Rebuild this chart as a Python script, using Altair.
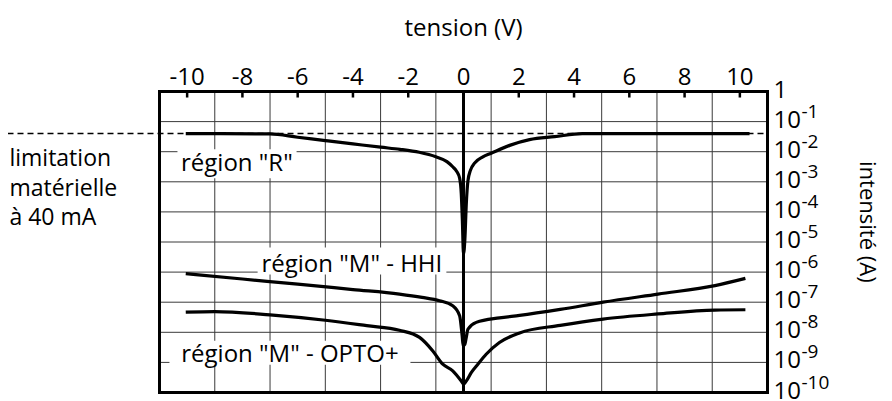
import altair as alt
import pandas as pd

FONT = "Open Sans"

# ---- axes ----
x_tick_values = [-10, -8, -6, -4, -2, 0, 2, 4, 6, 8, 10]
x_grid_values = [-9, -7, -5, -3, -1, 1, 3, 5, 7, 9]
y_label_exponents = [0, -1, -2, -3, -4, -5, -6, -7, -8, -9, -10]
y_grid_exponents = [-1, -2, -3, -4, -5, -6, -7, -8, -9]
x_title = "tension (V)"

# ---- curves: voltage (V) and log10 of current (A) ----
r_v = [-10.05, -7.0, -6.0, -5.0, -4.0, -3.0, -2.3, -1.6, -1.0, -0.6, -0.39, -0.25,
       -0.14, -0.08, -0.04, 0.0, 0.05, 0.1, 0.16, 0.25, 0.4, 0.7, 1.0, 1.67, 2.39,
       3.3, 4.3, 10.35]
r_exp = [-1.40, -1.41, -1.52, -1.63, -1.74, -1.85, -1.92, -2.02, -2.17, -2.33, -2.50,
         -2.65, -2.88, -3.40, -4.30, -5.40, -4.90, -3.75, -2.97, -2.62, -2.38, -2.17,
         -2.05, -1.79, -1.60, -1.50, -1.40, -1.40]

hhi_v = [-10.05, -8.0, -6.0, -4.0, -2.32, -1.5, -0.87, -0.39, -0.14, -0.05, -0.01,
         0.05, 0.1, 0.16, 0.46, 1.3, 2.03, 3.5, 5.05, 7.04, 9.1, 10.2]
hhi_exp = [-6.05, -6.23, -6.40, -6.58, -6.73, -6.84, -6.95, -7.12, -7.45, -8.10, -8.45,
           -8.40, -8.17, -7.90, -7.67, -7.52, -7.44, -7.24, -7.00, -6.73, -6.45, -6.21]

opto_v = [-10.05, -9.0, -7.0, -5.0, -3.5, -2.32, -1.59, -1.11, -0.75, -0.39, -0.08,
          0.0, 0.1, 0.28, 0.52, 0.82, 1.3, 2.03, 3.5, 5.05, 7.04, 9.1, 10.2]
opto_exp = [-7.33, -7.31, -7.42, -7.60, -7.78, -7.93, -8.17, -8.62, -9.06, -9.28, -9.62,
            -9.72, -9.62, -9.34, -9.06, -8.73, -8.34, -8.02, -7.77, -7.56, -7.39, -7.26,
            -7.25]

limit_current = 0.04  # 40 mA
limit_v_start = -16.5

# ---- annotations ----
box_v1 = [-10.35, -7.45, -10.64]
box_v2 = [-6.04, -0.62, -1.92]
box_exp_top = [-1.92, -5.18, -8.28]
box_exp_bottom = [-2.88, -6.08, -9.08]
label_texts = ['région "R"', 'région "M" - HHI', 'région "M" - OPTO+']
label_v = [-8.2, -4.04, -6.28]
label_exp = [-2.64, -5.99, -9.0]

note_lines = ["limitation", "matérielle", "à 40 mA"]
note_v = -16.43
note_exp = [-2.48, -3.48, -4.44]

y_title = "intensité (A)"
y_title_v = 14.6
y_title_exp = -4.33

# ---- data frames ----
rows = []
for name, vs, es in [("R", r_v, r_exp), ("HHI", hhi_v, hhi_exp), ("OPTO", opto_v, opto_exp)]:
    for k, (v, e) in enumerate(zip(vs, es)):
        rows.append({"series": name, "k": k, "v": v, "i": 10 ** e})
curves = pd.DataFrame(rows)

xscale = alt.Scale(domain=[-11, 11], nice=False, zero=False)
yscale = alt.Scale(type="log", domain=[1e-10, 1], nice=False)

xgrid_df = pd.DataFrame({"v": x_grid_values})
ygrid_df = pd.DataFrame({"i": [10.0 ** e for e in y_grid_exponents]})
ticks_df = pd.DataFrame({"v": x_tick_values, "t": [str(v) for v in x_tick_values]})
boxes_df = pd.DataFrame({
    "v1": box_v1, "v2": box_v2,
    "i1": [10 ** e for e in box_exp_top], "i2": [10 ** e for e in box_exp_bottom],
})
labels_df = pd.DataFrame({"v": label_v, "i": [10 ** e for e in label_exp], "t": label_texts})
note_df = pd.DataFrame({"v": [note_v] * 3, "i": [10 ** e for e in note_exp], "t": note_lines})
ylab_df = pd.DataFrame({
    "i": [10.0 ** e for e in y_label_exponents],
    "base": ["1" if e == 0 else "10" for e in y_label_exponents],
    "sup": ["" if e == 0 else str(e) for e in y_label_exponents],
})
ytitle_df = pd.DataFrame({"v": [y_title_v], "i": [10 ** y_title_exp], "t": [y_title]})
xtitle_df = pd.DataFrame({"v": [0], "t": [x_title]})
frame_df = pd.DataFrame({"v1": [-11], "v2": [11], "i1": [1.0], "i2": [1e-10]})

GRID = "#3a3a3a"
X = lambda f: alt.X(f, scale=xscale, axis=None)
Y = lambda f: alt.Y(f, scale=yscale, axis=None)

xgrid = alt.Chart(xgrid_df).mark_rule(color=GRID, strokeWidth=1).encode(x=X("v:Q"))
ygrid = alt.Chart(ygrid_df).mark_rule(color=GRID, strokeWidth=1).encode(y=Y("i:Q"))
boxes = alt.Chart(boxes_df).mark_rect(color="white").encode(
    x=X("v1:Q"), x2="v2:Q", y=Y("i1:Q"), y2="i2:Q",
)
lines = alt.Chart(curves).mark_line(color="black", interpolate="monotone").encode(
    x=X("v:Q"), y=Y("i:Q"),
    detail="series:N",
    order="k:Q",
    strokeWidth=alt.StrokeWidth("series:N", legend=None,
                                scale=alt.Scale(domain=["R", "HHI", "OPTO"], range=[3.2, 3.2, 2])),
)
zero_line = alt.Chart(pd.DataFrame({"v": [0]})).mark_rule(color="black", strokeWidth=3).encode(
    x=X("v:Q")
)
frame = alt.Chart(frame_df).mark_rect(fill=None, stroke="black", strokeWidth=3).encode(
    x=X("v1:Q"), x2="v2:Q", y=Y("i1:Q"), y2="i2:Q",
)
ticks = alt.Chart(ticks_df).mark_rule(color="black", strokeWidth=2.5).encode(
    x=X("v:Q"),
    y=alt.YDatum(1, scale=yscale, axis=None),
    y2=alt.Y2Datum(10 ** -0.2),
)
tick_labels = alt.Chart(ticks_df).mark_text(font=FONT, fontSize=24, color="black",
                                            align="center", baseline="alphabetic", dy=-7).encode(
    x=X("v:Q"),
    y=alt.YDatum(1, scale=yscale, axis=None),
    text="t:N",
)
xtitle = alt.Chart(xtitle_df).mark_text(font=FONT, fontSize=24, color="black",
                                        align="center", baseline="alphabetic", dy=-56).encode(
    x=X("v:Q"),
    y=alt.YDatum(1, scale=yscale, axis=None),
    text="t:N",
)
limit = alt.Chart(pd.DataFrame({"v": [limit_v_start], "v2": [11], "i": [limit_current]})).mark_rule(
    color="black", strokeWidth=1.5, strokeDash=[6, 4]
).encode(x=X("v:Q"), x2="v2:Q", y=Y("i:Q"))
labels = alt.Chart(labels_df).mark_text(font=FONT, fontSize=24, color="black",
                                        align="center", baseline="alphabetic").encode(
    x=X("v:Q"), y=Y("i:Q"), text="t:N",
)
note = alt.Chart(note_df).mark_text(font=FONT, fontSize=23, color="black",
                                    align="left", baseline="alphabetic").encode(
    x=X("v:Q"), y=Y("i:Q"), text="t:N",
)
ylab_base = alt.Chart(ylab_df).mark_text(font=FONT, fontSize=24, color="black",
                                         align="left", baseline="middle", dx=6, dy=-1).encode(
    x=alt.XDatum(11, scale=xscale, axis=None), y=Y("i:Q"), text="base:N",
)
ylab_sup = alt.Chart(ylab_df).mark_text(font=FONT, fontSize=19, color="black",
                                        align="left", baseline="middle", dx=34, dy=-10).encode(
    x=alt.XDatum(11, scale=xscale, axis=None), y=Y("i:Q"), text="sup:N",
)
ytitle = alt.Chart(ytitle_df).mark_text(font=FONT, fontSize=22, color="black", angle=90,
                                        align="center", baseline="middle").encode(
    x=X("v:Q"), y=Y("i:Q"), text="t:N",
)

chart = alt.layer(
    xgrid, ygrid, boxes, lines, zero_line, frame, ticks, tick_labels, xtitle, limit,
    labels, note, ylab_base, ylab_sup, ytitle
).properties(
    width=608, height=301,
    autosize=alt.AutoSizeParams(type="none"),
    padding={"left": 151.5, "top": 83.5, "right": 116.5, "bottom": 9},
).configure_view(stroke=None)

chart.save("out.html", embed_options={"renderer": "svg", "actions": False})
